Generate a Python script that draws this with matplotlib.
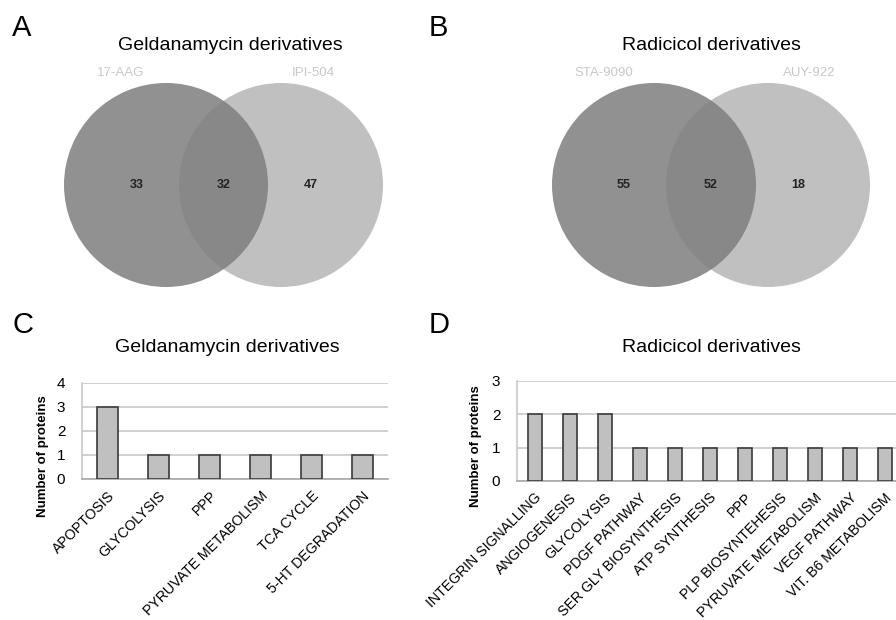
import matplotlib
matplotlib.use("Agg")
import matplotlib.pyplot as plt
from matplotlib.patches import Circle

plt.rcParams['font.family'] = ['Liberation Sans', 'DejaVu Sans']

# Venn counts: only-left, shared, only-right
venn_a_sets = ["17-AAG", "IPI-504"]
venn_a_counts = [33, 32, 47]
venn_b_sets = ["STA-9090", "AUY-922"]
venn_b_counts = [55, 52, 18]

# pathway counts
c_categories = ["APOPTOSIS", "GLYCOLYSIS", "PPP", "PYRUVATE METABOLISM",
                "TCA CYCLE", "5-HT DEGRADATION"]
c_values = [3, 1, 1, 1, 1, 1]
d_categories = ["INTEGRIN SIGNALLING", "ANGIOGENESIS", "GLYCOLYSIS",
                "PDGF PATHWAY", "SER GLY BIOSYNTHESIS", "ATP SYNTHESIS", "PPP",
                "PLP BIOSYNTEHESIS", "PYRUVATE METABOLISM", "VEGF PATHWAY",
                "VIT. B6 METABOLISM"]
d_values = [2, 2, 2, 1, 1, 1, 1, 1, 1, 1, 1]

W, H = 896, 620
fig = plt.figure(figsize=(W / 100, H / 100), dpi=100)

# overlay axes in pixel coordinates for the venn diagrams and panel text
bg = fig.add_axes([0, 0, 1, 1])
bg.set_xlim(0, W)
bg.set_ylim(H, 0)
bg.axis('off')


def venn(cx_left, cx_right, cy, r, names, counts, lab_off):
    bg.add_patch(Circle((cx_right, cy), r, facecolor='#c0c0c0', edgecolor='none', zorder=1))
    bg.add_patch(Circle((cx_left, cy), r, facecolor='#7e7e7e', edgecolor='none',
                        alpha=0.85, zorder=2))
    bg.text(cx_left + lab_off[0], 73, names[0], color='#c8c8c8', fontsize=9.5,
            ha='center', va='center')
    bg.text(cx_right + lab_off[1], 73, names[1], color='#c8c8c8', fontsize=9.5,
            ha='center', va='center')
    mid = (cx_left + cx_right) / 2
    xs = [(cx_left - r + cx_right - r) / 2 + 15, mid, (cx_left + r + cx_right + r) / 2 - 15]
    for x, n in zip(xs, counts):
        bg.text(x, cy, str(n), fontsize=9, fontweight='bold', color='#222222',
                ha='center', va='center', zorder=3)


venn(166, 281, 185, 102, venn_a_sets, venn_a_counts, (-45, 32))
venn(654, 768, 185, 102, venn_b_sets, venn_b_counts, (-50, 41))

bg.text(22, 28, "A", fontsize=21, ha='center', va='center')
bg.text(438, 28, "B", fontsize=21, ha='center', va='center')
bg.text(23, 325, "C", fontsize=21, ha='center', va='center')
bg.text(439, 325, "D", fontsize=21, ha='center', va='center')
bg.text(230, 45, "Geldanamycin derivatives", fontsize=14, ha='center', va='center')
bg.text(711, 45, "Radicicol derivatives", fontsize=14, ha='center', va='center')
bg.text(227, 347, "Geldanamycin derivatives", fontsize=14, ha='center', va='center')
bg.text(711, 347, "Radicicol derivatives", fontsize=14, ha='center', va='center')


def bars(rect, cats, vals, ymax, ylab_xy):
    ax = fig.add_axes(rect)
    x = range(len(cats))
    ax.bar(x, vals, width=0.4, color='#c0c0c0', edgecolor='#3a3a3a', linewidth=1.2, zorder=3)
    ax.set_xlim(-0.5, len(cats) - 0.5)
    ax.set_ylim(0, ymax)
    ax.set_yticks(range(ymax + 1))
    ax.yaxis.grid(True, color='#c8c8c8', linewidth=1.2, zorder=0)
    for s in ['top', 'right']:
        ax.spines[s].set_visible(False)
    ax.spines['left'].set_color('#c8c8c8')
    ax.spines['bottom'].set_color('#a8a8a8')
    ax.spines['left'].set_linewidth(1.2)
    ax.spines['bottom'].set_linewidth(1.2)
    ax.tick_params(axis='y', length=0, pad=12, labelsize=11)
    ax.tick_params(axis='x', length=0, pad=7)
    ax.set_xticks(list(x))
    ax.set_xticklabels(cats, rotation=45, ha='right', rotation_mode='anchor', fontsize=10.2)
    ax.set_facecolor('none')
    bg.text(ylab_xy[0], ylab_xy[1], "Number of proteins", rotation=90, fontsize=9.5,
            fontweight='bold', ha='center', va='center')
    return ax


bars([82 / W, 1 - 479 / H, 306 / W, 96 / H], c_categories, c_values, 4, (43, 456))
bars([517 / W, 1 - 481 / H, 385 / W, 100 / H], d_categories, d_values, 3, (476, 446))

fig.savefig("out.png", dpi=100)
